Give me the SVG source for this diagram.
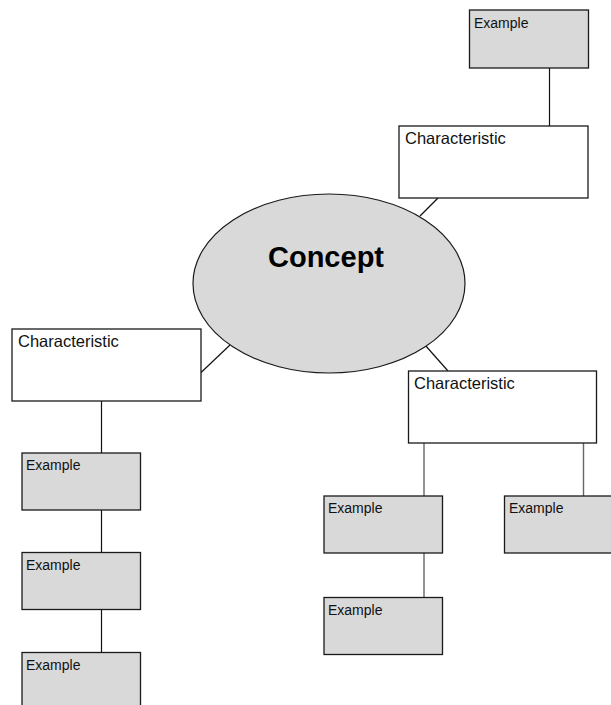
<svg xmlns="http://www.w3.org/2000/svg" width="611" height="705" viewBox="0 0 611 705">
  <style>
    .bg { fill: #ffffff; }
    .char { fill: #ffffff; stroke: #1a1a1a; stroke-width: 1.3; }
    .ex { fill: #d9d9d9; stroke: #1a1a1a; stroke-width: 1.3; }
    .concept { fill: #d9d9d9; stroke: #1a1a1a; stroke-width: 1.2; }
    .link { stroke: #111111; stroke-width: 1.2; fill: none; }
    .link-soft { stroke: #666666; stroke-width: 1.4; fill: none; }
    .lbl-char { font-family: "Liberation Sans", Arial, sans-serif; font-size: 16.5px; fill: #111111; }
    .lbl-ex { font-family: "Liberation Sans", Arial, sans-serif; font-size: 14px; fill: #111111; }
    .lbl-concept { font-family: "Liberation Sans", Arial, sans-serif; font-size: 29px; font-weight: bold; fill: #000000; text-anchor: middle; }
  </style>
  <rect class="bg" x="0" y="0" width="611" height="705"/>

  <g id="connectors">
    <line class="link" x1="549.5" y1="68" x2="549.5" y2="126"/>
    <line class="link" x1="438" y1="198" x2="420" y2="216"/>
    <line class="link" x1="200.5" y1="373" x2="230" y2="345"/>
    <line class="link" x1="101.5" y1="401" x2="101.5" y2="453"/>
    <line class="link" x1="101.5" y1="510" x2="101.5" y2="552"/>
    <line class="link" x1="101.5" y1="609" x2="101.5" y2="652"/>
    <line class="link" x1="425" y1="345" x2="448" y2="371"/>
    <line class="link-soft" x1="424" y1="443" x2="424" y2="496"/>
    <line class="link-soft" x1="583.5" y1="443" x2="583.5" y2="496"/>
    <line class="link-soft" x1="424" y1="553" x2="424" y2="597"/>
  </g>

  <g id="concept">
    <ellipse class="concept" cx="329" cy="283.5" rx="136" ry="89.5"/>
    <text class="lbl-concept" x="326" y="267">Concept</text>
  </g>

  <g id="char-top">
    <rect class="char" x="399" y="126" width="189" height="72"/>
    <text class="lbl-char" x="405" y="143.5">Characteristic</text>
  </g>
  <g id="example-top">
    <rect class="ex" x="469.5" y="10" width="119" height="58"/>
    <text class="lbl-ex" x="474" y="27.5">Example</text>
  </g>

  <g id="char-left">
    <rect class="char" x="12" y="329" width="189" height="72"/>
    <text class="lbl-char" x="18" y="346.5">Characteristic</text>
  </g>
  <g id="example-left-1">
    <rect class="ex" x="22" y="453" width="118.5" height="57"/>
    <text class="lbl-ex" x="26" y="470">Example</text>
  </g>
  <g id="example-left-2">
    <rect class="ex" x="22" y="552.5" width="118.5" height="57"/>
    <text class="lbl-ex" x="26" y="569.5">Example</text>
  </g>
  <g id="example-left-3">
    <rect class="ex" x="22" y="652.5" width="118.5" height="60"/>
    <text class="lbl-ex" x="26" y="669.5">Example</text>
  </g>

  <g id="char-right">
    <rect class="char" x="408.5" y="371" width="188" height="72"/>
    <text class="lbl-char" x="414" y="388.5">Characteristic</text>
  </g>
  <g id="example-right-1">
    <rect class="ex" x="324" y="496" width="118.5" height="57"/>
    <text class="lbl-ex" x="328" y="513">Example</text>
  </g>
  <g id="example-right-2">
    <rect class="ex" x="504.5" y="496" width="119" height="57"/>
    <text class="lbl-ex" x="509" y="513">Example</text>
  </g>
  <g id="example-right-3">
    <rect class="ex" x="324" y="597.5" width="118.5" height="57"/>
    <text class="lbl-ex" x="328" y="614.5">Example</text>
  </g>
</svg>
